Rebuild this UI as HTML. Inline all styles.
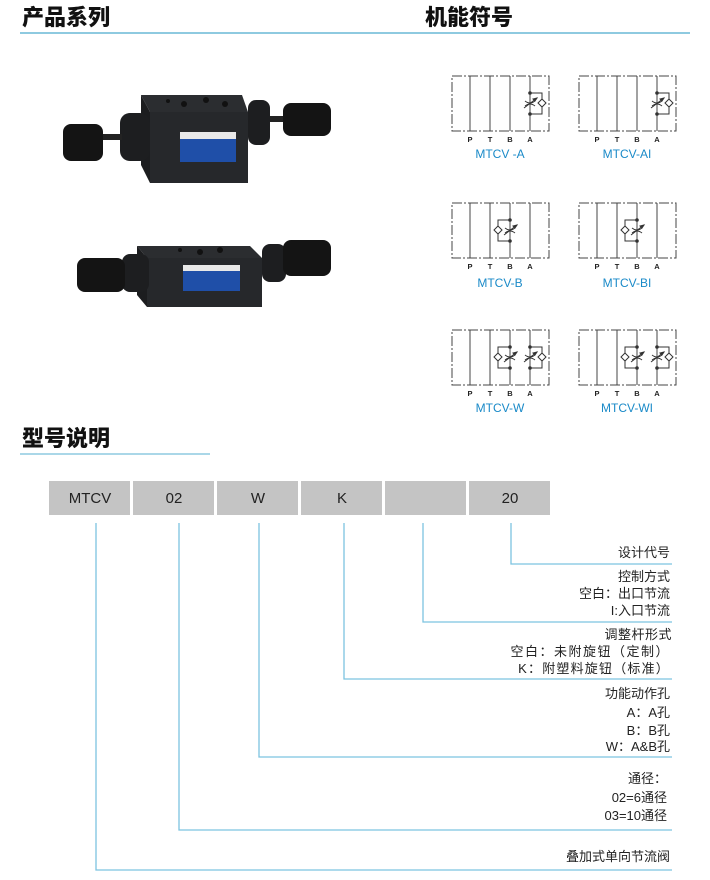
<!DOCTYPE html>
<html><head><meta charset="utf-8"><style>
html,body{margin:0;padding:0;background:#fff;}
svg{display:block;}
.h{font-family:"Liberation Sans","Noto Sans CJK SC",sans-serif;font-weight:900;font-size:22px;fill:#111;}
.t{font-family:"Liberation Sans","Noto Sans CJK SC",sans-serif;font-size:13px;fill:#222;text-anchor:end;}
.c{font-family:"Liberation Sans",sans-serif;font-size:12px;fill:#1a8ac8;text-anchor:middle;}
.p{font-family:"Liberation Sans",sans-serif;font-size:7.5px;font-weight:bold;fill:#222;text-anchor:middle;}
.bx{font-family:"Liberation Sans",sans-serif;font-size:15px;fill:#222;text-anchor:middle;}
</style></head><body>
<svg width="710" height="880" viewBox="0 0 710 880" xmlns="http://www.w3.org/2000/svg">
<defs>
<g id="base" stroke="#444" stroke-width="1" fill="none">
  <rect x="0" y="0" width="97" height="55" stroke-dasharray="10,2,2,2"/>
  <line x1="18" y1="0" x2="18" y2="55"/><line x1="38" y1="0" x2="38" y2="55"/>
  <line x1="58" y1="0" x2="58" y2="55"/><line x1="78" y1="0" x2="78" y2="55"/>
</g>
<g id="elA" stroke="#333" stroke-width="1" fill="none">
  <polyline points="78,17 90,17 90,38 78,38"/>
  <polygon points="90,23 94,27 90,31 86,27" fill="#fff"/>
  <path d="M73,25 Q78,29 83,25 M73,30 Q78,26 83,30"/>
  <line x1="72" y1="32" x2="85" y2="22"/><polygon points="85,22 81,23 83,25" fill="#333"/>
  <circle cx="78" cy="17" r="1.3" fill="#333"/><circle cx="78" cy="38" r="1.3" fill="#333"/>
</g>
<g id="elB" stroke="#333" stroke-width="1" fill="none">
  <polyline points="58,17 46,17 46,38 58,38"/>
  <polygon points="46,23 50,27 46,31 42,27" fill="#fff"/>
  <path d="M53,25 Q58,29 63,25 M53,30 Q58,26 63,30"/>
  <line x1="52" y1="32" x2="65" y2="22"/><polygon points="65,22 61,23 63,25" fill="#333"/>
  <circle cx="58" cy="17" r="1.3" fill="#333"/><circle cx="58" cy="38" r="1.3" fill="#333"/>
</g>
<g id="lbl">
  <text class="p" x="18" y="66">P</text><text class="p" x="38" y="66">T</text>
  <text class="p" x="58" y="66">B</text><text class="p" x="78" y="66">A</text>
</g>
</defs>

<text class="h" x="22" y="25">产品系列</text>
<text class="h" x="425" y="25">机能符号</text>
<line x1="20" y1="33" x2="690" y2="33" stroke="#8ecae0" stroke-width="2"/>
<text class="h" x="22" y="446">型号说明</text>
<line x1="20" y1="454" x2="210" y2="454" stroke="#8ecae0" stroke-width="1.5"/>

<!-- valve 1 -->
<polygon points="141,95 242,95 248,112 150,112" fill="#2b2d30"/>
<polygon points="141,95 150,112 150,183 141,165" fill="#1c1d1f"/>
<rect x="150" y="112" width="98" height="71" fill="#26282b"/>
<rect x="120" y="113" width="30" height="48" rx="10" fill="#1d1e20"/>
<rect x="248" y="100" width="22" height="45" rx="8" fill="#1d1e20"/>
<rect x="100" y="134" width="22" height="6" fill="#222"/>
<rect x="63" y="124" width="40" height="37" rx="8" fill="#141414"/>
<rect x="270" y="116" width="18" height="6" fill="#222"/>
<rect x="283" y="103" width="48" height="33" rx="8" fill="#141414"/>
<rect x="180" y="132" width="56" height="30" fill="#1f4fa8"/>
<rect x="180" y="132" width="56" height="7" fill="#e8e8e8"/>
<circle cx="168" cy="101" r="2" fill="#111"/><circle cx="184" cy="104" r="3" fill="#111"/><circle cx="206" cy="100" r="3" fill="#111"/><circle cx="225" cy="104" r="3" fill="#111"/>

<!-- valve 2 -->
<polygon points="137,246 250,246 262,258 147,258" fill="#2b2d30"/>
<polygon points="137,246 147,258 147,307 137,295" fill="#1c1d1f"/>
<rect x="147" y="258" width="115" height="49" fill="#26282b"/>
<rect x="122" y="254" width="27" height="38" rx="8" fill="#1d1e20"/>
<rect x="262" y="244" width="24" height="38" rx="8" fill="#1d1e20"/>
<rect x="77" y="258" width="48" height="34" rx="8" fill="#141414"/>
<rect x="283" y="240" width="48" height="36" rx="8" fill="#141414"/>
<rect x="183" y="265" width="57" height="26" fill="#1f4fa8"/>
<rect x="183" y="265" width="57" height="6" fill="#e8e8e8"/>
<circle cx="180" cy="250" r="2" fill="#111"/><circle cx="200" cy="252" r="3" fill="#111"/><circle cx="220" cy="250" r="3" fill="#111"/>

<g transform="translate(452,76)"><use href="#base"/><use href="#elA"/><use href="#lbl"/></g>
<text class="c" x="500" y="158">MTCV -A</text>
<g transform="translate(579,76)"><use href="#base"/><use href="#elA"/><use href="#lbl"/></g>
<text class="c" x="627" y="158">MTCV-AI</text>
<g transform="translate(452,203)"><use href="#base"/><use href="#elB"/><use href="#lbl"/></g>
<text class="c" x="500" y="287">MTCV-B</text>
<g transform="translate(579,203)"><use href="#base"/><use href="#elB"/><use href="#lbl"/></g>
<text class="c" x="627" y="287">MTCV-BI</text>
<g transform="translate(452,330)"><use href="#base"/><use href="#elA"/><use href="#elB"/><use href="#lbl"/></g>
<text class="c" x="500" y="412">MTCV-W</text>
<g transform="translate(579,330)"><use href="#base"/><use href="#elA"/><use href="#elB"/><use href="#lbl"/></g>
<text class="c" x="627" y="412">MTCV-WI</text>

<g fill="#c4c4c4">
<rect x="49" y="481" width="81" height="34"/><rect x="133" y="481" width="81" height="34"/>
<rect x="217" y="481" width="81" height="34"/><rect x="301" y="481" width="81" height="34"/>
<rect x="385" y="481" width="81" height="34"/><rect x="469" y="481" width="81" height="34"/>
</g>
<text class="bx" x="90" y="503">MTCV</text><text class="bx" x="174" y="503">02</text>
<text class="bx" x="258" y="503">W</text><text class="bx" x="342" y="503">K</text>
<text class="bx" x="510" y="503">20</text>

<g stroke="#7cc3e0" stroke-width="1.3" fill="none">
<polyline points="511,523 511,564 672,564"/>
<polyline points="423,523 423,622 672,622"/>
<polyline points="344,523 344,679 672,679"/>
<polyline points="259,523 259,757 672,757"/>
<polyline points="179,523 179,830 672,830"/>
<polyline points="96,523 96,870 672,870"/>
</g>

<text class="t" x="670" y="557">设计代号</text>
<text class="t" x="670" y="581">控制方式</text>
<text class="t" x="670" y="598">空白：出口节流</text>
<text class="t" x="670" y="615">I:入口节流</text>
<text class="t" x="672" y="639" letter-spacing="0.5">调整杆形式</text>
<text class="t" x="670" y="656" letter-spacing="1.5">空白：未附旋钮（定制）</text>
<text class="t" x="670" y="673" letter-spacing="1.2">K：附塑料旋钮（标准）</text>
<text class="t" x="670" y="698">功能动作孔</text>
<text class="t" x="670" y="717">A：A孔</text>
<text class="t" x="670" y="735">B：B孔</text>
<text class="t" x="670" y="751">W：A&amp;B孔</text>
<text class="t" x="667" y="783">通径：</text>
<text class="t" x="667" y="802">02=6通径</text>
<text class="t" x="667" y="820">03=10通径</text>
<text class="t" x="670" y="861">叠加式单向节流阀</text>
</svg>
</body></html>
